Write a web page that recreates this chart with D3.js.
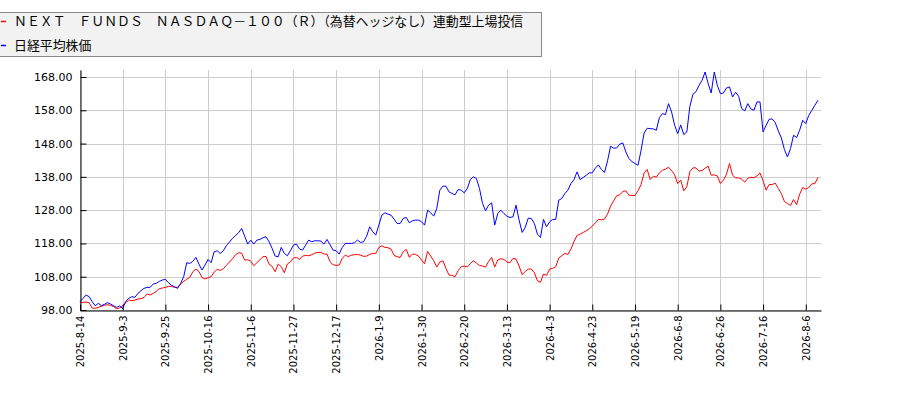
<!DOCTYPE html>
<html>
<head>
<meta charset="utf-8">
<script src="https://cdn.jsdelivr.net/npm/d3@7/dist/d3.min.js"></script>
<style>
  body { margin: 0; background: #fff; }
</style>
</head>
<body>
<div id="chart"></div>
<script>
// tick labels, one every 14 trading days
var tickLabels = ['2025-8-14', '2025-9-3', '2025-9-25', '2025-10-16', '2025-11-6', '2025-11-27',
  '2025-12-17', '2026-1-9', '2026-1-30', '2026-2-20', '2026-3-13', '2026-4-3', '2026-4-23',
  '2026-5-19', '2026-6-8', '2026-6-26', '2026-7-16', '2026-8-6'];
var tickStep = 14;

var seriesNames = ['ＮＥＸＴ　ＦＵＮＤＳ　ＮＡＳＤＡＱ－１００（Ｒ）（為替ヘッジなし）連動型上場投信', '日経平均株価'];
var seriesColors = ['#ff0000', '#0000ff'];

var yTicks = [98, 108, 118, 128, 138, 148, 158, 168];

// relative values (start = 100), one per trading day
var fundValues = [
  100.2, 100.3, 100.4, 100.2, 98.6, 98.5, 98.8, 99.1, 99.4, 99.6,
  99.4, 99.0, 98.4, 98.6, 99.3, 100.2, 101.0, 100.8, 101.0, 101.3,
  101.4, 101.8, 102.8, 102.5, 103.0, 103.6, 104.4, 104.6, 104.8, 105.1,
  105.1, 104.8, 104.8, 105.8, 106.6, 107.2, 107.8, 109.5, 110.3, 109.6,
  107.8, 107.3, 107.7, 108.0, 109.4, 110.2, 109.9, 110.4, 111.4, 112.4,
  113.4, 114.6, 115.2, 115.1, 113.0, 113.1, 112.7, 111.3, 112.2, 113.1,
  114.0, 114.1, 111.8, 111.1, 109.5, 111.8, 111.0, 109.2, 111.8, 112.5,
  113.6, 113.8, 113.2, 114.2, 114.4, 114.3, 114.6, 115.1, 115.3, 115.3,
  114.8, 114.8, 112.5, 111.6, 111.4, 111.5, 113.5, 114.5, 114.0, 114.5,
  114.6, 114.7, 114.5, 114.1, 114.2, 114.7, 115.0, 115.0, 116.8, 117.3,
  116.8, 116.7, 116.3, 114.4, 114.0, 113.8, 115.5, 116.2, 113.8, 114.8,
  114.7, 114.2, 113.0, 111.9, 115.6, 114.2, 112.8, 110.9, 112.4, 112.8,
  110.5, 108.5, 108.4, 108.0, 109.8, 111.0, 111.2, 110.9, 111.9, 112.8,
  112.1, 111.4, 111.2, 110.9, 112.6, 113.8, 110.9, 113.0, 113.4, 113.2,
  112.4, 112.2, 113.5, 113.3, 111.2, 108.6, 109.6, 110.3, 110.3, 109.2,
  106.8, 106.3, 108.8, 108.4, 110.3, 110.5, 111.0, 113.6, 114.3, 115.0,
  114.7, 116.3, 118.6, 120.4, 120.8, 121.3, 121.8, 122.4, 123.2, 124.2,
  125.2, 125.1, 125.3, 126.8, 129.2, 130.8, 132.3, 132.6, 133.6, 133.8,
  132.5, 132.4, 132.4, 133.8, 135.7, 139.2, 140.2, 137.2, 138.2, 137.9,
  139.2, 140.0, 140.3, 140.9, 139.9, 138.6, 136.0, 137.0, 133.8, 135.0,
  139.6, 140.7, 140.7, 139.7, 139.9, 140.6, 141.2, 138.5, 138.6, 138.3,
  136.0, 137.0, 138.8, 142.0, 138.5, 137.7, 137.7, 137.3, 136.4, 137.6,
  137.9, 137.7, 138.3, 139.2, 136.8, 134.0, 135.7, 135.7, 136.1, 134.5,
  133.0, 130.6, 130.0, 129.4, 131.2, 129.6, 132.8, 134.8, 134.3, 134.8,
  135.9, 136.0, 137.8
];

var nikkeiValues = [
  100.5, 101.5, 102.5, 102.0, 100.5, 99.3, 100.0, 99.3, 99.7, 100.2,
  99.8, 99.3, 98.8, 99.2, 98.4, 100.6, 101.5, 102.0, 101.8, 103.0,
  103.8, 104.5, 104.8, 104.8, 105.8, 106.0, 106.6, 107.0, 107.2, 106.2,
  105.4, 105.0, 104.5, 106.0, 108.0, 112.2, 112.0, 112.6, 113.8, 111.8,
  110.0, 111.5, 113.2, 112.2, 115.5, 115.8, 115.0, 115.8, 117.3, 118.4,
  119.5, 120.4, 121.2, 122.5, 120.2, 117.8, 119.0, 117.8, 119.0, 119.2,
  119.7, 120.0, 118.5, 116.5, 114.2, 114.0, 116.8, 115.0, 114.3, 115.8,
  117.5, 117.8, 116.3, 116.0, 117.5, 119.0, 118.5, 118.8, 118.8, 118.7,
  117.8, 119.2, 117.6, 116.0, 115.8, 114.8, 116.8, 118.0, 118.0, 118.0,
  118.2, 119.0, 118.3, 118.5, 120.2, 123.0, 121.5, 120.5, 123.5, 126.5,
  127.2, 126.8, 126.5, 125.3, 124.0, 124.0, 125.5, 125.8, 124.2, 124.8,
  125.0, 125.0, 124.5, 123.5, 128.0, 127.2, 126.2, 128.5, 134.0, 135.2,
  135.2, 133.5, 133.0, 132.6, 134.2, 134.0, 133.2, 134.5, 137.2, 138.0,
  137.5, 134.5, 130.0, 127.8, 129.5, 130.2, 123.5, 127.0, 128.0, 127.0,
  126.2, 125.8, 126.0, 129.5, 125.0, 121.3, 122.8, 125.6, 125.5, 124.0,
  120.8, 119.8, 125.2, 123.0, 124.5, 125.2, 125.2, 131.0, 131.5, 133.0,
  134.0, 136.0, 137.2, 139.5, 137.2, 137.8, 138.5, 139.2, 139.2, 140.6,
  141.6, 140.2, 139.3, 142.8, 147.2, 146.6, 146.7, 147.8, 148.2, 145.5,
  143.5, 142.6, 142.0, 141.5, 146.0, 151.2, 152.6, 152.5, 152.4, 152.0,
  155.8, 157.0, 156.7, 160.0, 157.5, 153.5, 151.0, 153.6, 150.7, 151.5,
  159.2, 162.8, 163.6, 165.5, 167.0, 169.5, 166.0, 163.2, 169.5, 165.5,
  163.0, 163.2, 164.7, 165.0, 162.0, 163.4, 162.2, 158.5, 157.8, 160.0,
  158.4, 158.0, 160.5, 160.5, 151.5, 153.5, 155.3, 155.4, 154.3, 151.8,
  149.7, 146.2, 144.0, 146.5, 150.5, 149.8, 152.0, 155.0, 154.0, 156.5,
  158.0, 159.5, 161.0
];

var W = 900, H = 400;
var plotLeft = 80, plotRight = 821, plotTop = 70, plotBottom = 310;

var svg = d3.select('#chart').append('svg')
  .attr('width', W)
  .attr('height', H);

var x = d3.scaleLinear().domain([0, 243]).range([plotLeft, plotRight]);
var y = d3.scaleLinear()
  .domain([98, 98 + (plotBottom - plotTop) * 70 / 233])
  .range([plotBottom, plotTop]);

var tickIdx = tickLabels.map(function(d, i) { return i * tickStep; });

// grid
svg.append('g').selectAll('line')
  .data(yTicks).enter().append('line')
  .attr('x1', plotLeft).attr('x2', plotRight)
  .attr('y1', function(d) { return Math.round(y(d)) + 0.5; })
  .attr('y2', function(d) { return Math.round(y(d)) + 0.5; })
  .attr('stroke', '#cccccc');

svg.append('g').selectAll('line')
  .data(tickIdx).enter().append('line')
  .attr('x1', function(d) { return Math.round(x(d)) + 0.5; })
  .attr('x2', function(d) { return Math.round(x(d)) + 0.5; })
  .attr('y1', plotTop).attr('y2', plotBottom)
  .attr('stroke', '#cccccc');

// lines
var line = d3.line()
  .x(function(d, i) { return x(i); })
  .y(function(d) { return y(d); });

[fundValues, nikkeiValues].forEach(function(vals, k) {
  svg.append('path')
    .datum(vals)
    .attr('fill', 'none')
    .attr('stroke', seriesColors[k])
    .attr('stroke-width', 1)
    .attr('d', line);
});

// axes
var yAxis = d3.axisLeft(y)
  .tickValues(yTicks)
  .tickSizeInner(-6)
  .tickSizeOuter(0)
  .tickPadding(8)
  .tickFormat(d3.format('.2f'));

var gy = svg.append('g')
  .attr('transform', 'translate(' + (plotLeft + 0.5) + ',0)')
  .call(yAxis);
gy.select('.domain').attr('stroke', '#000');
gy.selectAll('.tick line').attr('stroke', '#000');
gy.selectAll('text')
  .attr('font-family', 'DejaVu Sans')
  .attr('font-size', '11px')
  .attr('fill', '#000');

var xAxis = d3.axisBottom(x)
  .tickValues(tickIdx)
  .tickSizeInner(-6)
  .tickSizeOuter(0)
  .tickFormat(function(d, i) { return tickLabels[i]; });

var gx = svg.append('g')
  .attr('transform', 'translate(0,' + (plotBottom + 0.5) + ')')
  .call(xAxis);
gx.select('.domain').attr('stroke', '#000');
gx.selectAll('.tick line').attr('stroke', '#000');
gx.selectAll('text')
  .attr('font-family', 'DejaVu Sans')
  .attr('font-size', '10px')
  .attr('fill', '#000')
  .attr('text-anchor', 'end')
  .attr('transform', 'rotate(-90)')
  .attr('x', -5)
  .attr('y', 0)
  .attr('dy', '0.35em');

// legend
var legend = svg.append('g');
legend.append('rect')
  .attr('x', -1.5).attr('y', 12.5)
  .attr('width', 543).attr('height', 44)
  .attr('fill', '#f2f2f2')
  .attr('stroke', '#888');

seriesNames.forEach(function(name, k) {
  var cy = 21 + k * 24;
  legend.append('line')
    .attr('x1', 1).attr('x2', 6)
    .attr('y1', cy + 0.5).attr('y2', cy + 0.5)
    .attr('stroke', seriesColors[k])
    .attr('stroke-width', 1.5);
  legend.append('text')
    .attr('x', 14).attr('y', cy)
    .attr('dy', '0.36em')
    .attr('font-family', 'Noto Sans CJK JP')
    .attr('font-size', '12.9px')
    .attr('fill', '#000')
    .text(name);
});
</script>
</body>
</html>
